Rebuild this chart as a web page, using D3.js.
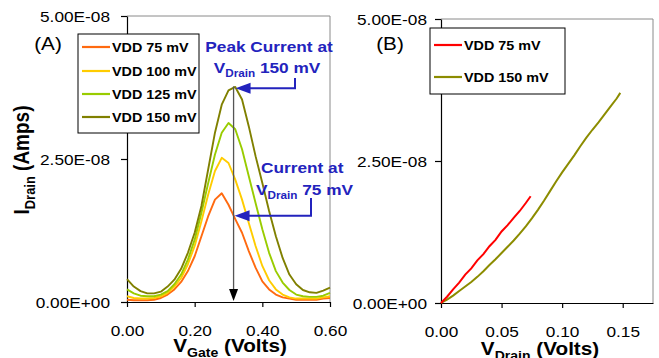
<!DOCTYPE html>
<html>
<head>
<meta charset="utf-8">
<script src="https://cdn.jsdelivr.net/npm/d3@7"></script>
<style>
  body { margin: 0; background: #fff; }
  svg { display: block; }
  text { font-family: "Liberation Sans", Arial, sans-serif; }
</style>
</head>
<body>
<div id="chart-area"></div>
<script>
// panel (A): drain current vs gate voltage, values in units of 1e-8 A
const vGate = [0.00,0.02,0.04,0.06,0.08,0.10,0.12,0.14,0.16,0.18,0.20,0.22,0.24,0.26,0.28,0.30,
               0.32,0.34,0.36,0.38,0.40,0.42,0.44,0.46,0.48,0.50,0.52,0.54,0.56,0.58,0.60];
const idVdd75  = [0.04,0.03,0.03,0.03,0.04,0.07,0.13,0.22,0.35,0.54,0.80,1.15,1.50,1.79,1.90,1.70,
                  1.45,1.21,0.89,0.60,0.36,0.22,0.13,0.08,0.06,0.04,0.04,0.04,0.04,0.06,0.07];
const idVdd100 = [0.10,0.07,0.06,0.06,0.07,0.10,0.16,0.27,0.42,0.66,0.98,1.41,1.88,2.29,2.52,2.43,
                  2.14,1.79,1.38,0.98,0.63,0.38,0.22,0.13,0.08,0.06,0.06,0.06,0.06,0.08,0.10];
const idVdd125 = [0.22,0.15,0.11,0.10,0.10,0.13,0.19,0.31,0.48,0.74,1.09,1.56,2.08,2.58,2.96,3.13,
                  3.02,2.67,2.20,1.73,1.27,0.86,0.54,0.34,0.21,0.13,0.10,0.09,0.09,0.11,0.16];
const idVdd150 = [0.40,0.27,0.19,0.15,0.15,0.18,0.27,0.39,0.58,0.86,1.21,1.68,2.32,2.96,3.45,3.70,
                  3.76,3.54,3.07,2.55,2.08,1.59,1.15,0.77,0.48,0.31,0.21,0.17,0.16,0.20,0.25];

// panel (B): drain current vs drain voltage
const vDrain75  = [0,0.005,0.010,0.015,0.020,0.025,0.030,0.035,0.040,0.045,0.050,0.055,0.060,0.065,0.070,0.074];
const idDrain75 = [0,0.11,0.24,0.36,0.50,0.61,0.75,0.86,1.00,1.11,1.26,1.37,1.50,1.62,1.76,1.88];
const vDrain150  = [0,0.005,0.01,0.015,0.02,0.025,0.03,0.035,0.04,0.045,0.05,0.055,0.06,0.065,0.07,0.075,
                    0.08,0.085,0.09,0.095,0.10,0.105,0.11,0.115,0.12,0.125,0.13,0.135,0.14,0.145,0.148];
const idDrain150 = [0,0.06,0.13,0.21,0.29,0.37,0.46,0.56,0.67,0.77,0.88,0.99,1.10,1.22,1.35,1.49,
                    1.64,1.80,1.97,2.14,2.30,2.45,2.60,2.76,2.91,3.05,3.18,3.32,3.46,3.60,3.70];

const seriesA = ['VDD 75 mV','VDD 100 mV','VDD 125 mV','VDD 150 mV'];
const colorsA = ['#ff6a10','#ffcc00','#99cc00','#808000'];
const seriesB = ['VDD 75 mV','VDD 150 mV'];
const colorsB = ['#ff0000','#8c8c00'];

const yTicks = [0, 2.5e-8, 5e-8];
const xTicksA = [0, 0.2, 0.4, 0.6];
const xTicksB = [0, 0.05, 0.10, 0.15];

const peakVg = 0.315, peakId = 3.77, crossId = 1.51; // marker line and arrow targets
const unit = 1e-8;

const width = 659, height = 358;
const SX = 1.15; // the source picture is stretched sideways

const svg = d3.select('#chart-area').append('svg')
    .attr('width', width).attr('height', height);

const fmtE = v => {
    if (v === 0) return '0.00E+00';
    const e = Math.floor(Math.log10(v) + 1e-9);
    const m = v / Math.pow(10, e);
    return m.toFixed(2) + 'E' + (e < 0 ? '-' : '+') + String(Math.abs(e)).padStart(2, '0');
};

function addText(g, x, y, parts, size, o = {}) {
    const t = g.append('text')
        .attr('transform', `translate(${x},${y}) scale(${SX},1)` + (o.rotate ? ' rotate(-90)' : ''))
        .attr('font-size', size)
        .attr('font-weight', o.bold ? 'bold' : 'normal')
        .attr('fill', o.fill || '#000')
        .attr('text-anchor', o.anchor || 'start');
    let down = false;
    parts.forEach(p => {
        const isSub = typeof p !== 'string';
        const s = t.append('tspan').text(isSub ? p.sub : p);
        if (isSub) { s.attr('font-size', size * 0.68).attr('dy', size * 0.28); down = true; }
        else if (down) { s.attr('dy', -size * 0.28); down = false; }
    });
    return t;
}

function drawAxes(g, x, y, xTicks, xFmt, labelGap) {
    const [x0, x1] = x.range(), [y0, y1] = y.range();
    // grey frame on top and right
    g.append('path')
        .attr('d', `M${x0},${y1}H${x1}V${y0}`)
        .attr('fill', 'none').attr('stroke', '#8a8a8a').attr('stroke-width', 1);

    const ya = g.append('g').attr('transform', `translate(${x0},0)`)
        .call(d3.axisLeft(y).tickValues(yTicks).tickSize(6).tickSizeOuter(0).tickFormat(fmtE));
    ya.selectAll('text')
        .attr('x', -labelGap / SX).attr('dy', '0.36em')
        .attr('transform', `scale(${SX},1)`)
        .attr('font-size', 15).attr('fill', '#000');

    const xa = g.append('g').attr('transform', `translate(0,${y0})`)
        .call(d3.axisBottom(x).tickValues(xTicks).tickSize(5).tickSizeOuter(0).tickFormat(xFmt));
    xa.selectAll('text')
        .attr('y', 0).attr('dy', 34).attr('x', 0)
        .attr('transform', `scale(${SX},1)`)
        .attr('font-size', 15).attr('fill', '#000');

    [ya, xa].forEach(a => {
        a.attr('font-family', null).attr('font-size', null);
        a.select('.domain').attr('stroke', '#000').attr('stroke-width', 1.2);
        a.selectAll('.tick line').attr('stroke', '#000').attr('stroke-width', 1.2);
    });
}

function drawLegend(g, x, y, w, h, names, colors, rowY) {
    g.append('rect').attr('x', x).attr('y', y).attr('width', w).attr('height', h)
        .attr('fill', '#fff').attr('stroke', '#000').attr('stroke-width', 1);
    names.forEach((n, i) => {
        const cy = y + rowY[i];
        g.append('line').attr('x1', x + 4).attr('x2', x + 32).attr('y1', cy).attr('y2', cy)
            .attr('stroke', colors[i]).attr('stroke-width', 2.2);
        addText(g, x + 34, cy + 4.5, [n], 12.5, {bold: true});
    });
}

// ---------- panel A ----------
const gA = svg.append('g');
const xA = d3.scaleLinear().domain([0, 0.6]).range([127, 330]);
const yA = d3.scaleLinear().domain([0, 5e-8]).range([302, 16]);
drawAxes(gA, xA, yA, xTicksA, d3.format('.2f'), 17);

const lineA = d3.line().x((d, i) => xA(vGate[i])).y(d => yA(d * unit));
[idVdd75, idVdd100, idVdd125, idVdd150].forEach((s, i) => {
    gA.append('path').datum(s).attr('d', lineA)
        .attr('fill', 'none').attr('stroke', colorsA[i]).attr('stroke-width', 1.9)
        .attr('stroke-linejoin', 'round');
});

// vertical marker at the peak gate voltage
const mx = xA(peakVg);
gA.append('line').attr('x1', mx).attr('x2', mx)
    .attr('y1', yA(peakId * unit)).attr('y2', yA(0) - 10)
    .attr('stroke', '#555').attr('stroke-width', 1.3);
gA.append('path')
    .attr('d', `M${mx - 4.5},${yA(0) - 13}L${mx + 4.5},${yA(0) - 13}L${mx},${yA(0) - 1}Z`)
    .attr('fill', '#000');

// blue call-out arrows
const blue = '#2323bd';
function callout(tipX, tipY, elbowX, topY) {
    gA.append('path')
        .attr('d', `M${elbowX},${topY}V${tipY}H${tipX + 13}`)
        .attr('fill', 'none').attr('stroke', blue).attr('stroke-width', 2);
    gA.append('path')
        .attr('d', `M${tipX},${tipY}L${tipX + 15},${tipY - 5.5}L${tipX + 15},${tipY + 5.5}Z`)
        .attr('fill', blue);
}
callout(mx + 2, yA(peakId * unit) + 2, 295, 78);
callout(mx + 1, yA(crossId * unit), 311, 198);

addText(gA, 269, 52, ['Peak Current at'], 15, {bold: true, fill: blue, anchor: 'middle'});
addText(gA, 267, 73, ['V', {sub: 'Drain'}, ' 150 mV'], 15, {bold: true, fill: blue, anchor: 'middle'});
addText(gA, 261, 173, ['Current at'], 15, {bold: true, fill: blue});
addText(gA, 256, 195, ['V', {sub: 'Drain'}, ' 75 mV'], 15, {bold: true, fill: blue});

drawLegend(gA, 78, 34, 121, 99, seriesA, colorsA, [13, 37, 60, 83]);

addText(gA, 48, 50, ['(A)'], 18, {anchor: 'middle'});
addText(gA, 230, 352, ['V', {sub: 'Gate'}, ' (Volts)'], 18, {bold: true, anchor: 'middle'});
addText(gA, 29, 160, ['I', {sub: 'Drain'}, ' (Amps)'], 19, {bold: true, anchor: 'middle', rotate: true});

// ---------- panel B ----------
const gB = svg.append('g');
const xB = d3.scaleLinear().domain([0, 0.175]).range([441, 653]);
const yB = d3.scaleLinear().domain([0, 5e-8]).range([303, 19]);
drawAxes(gB, xB, yB, xTicksB, d3.format('.2f'), 14);

const lineB = (xs) => d3.line().x((d, i) => xB(xs[i])).y(d => yB(d * unit));
gB.append('path').datum(idDrain150).attr('d', lineB(vDrain150))
    .attr('fill', 'none').attr('stroke', colorsB[1]).attr('stroke-width', 2);
gB.append('path').datum(idDrain75).attr('d', lineB(vDrain75))
    .attr('fill', 'none').attr('stroke', colorsB[0]).attr('stroke-width', 2);

drawLegend(gB, 430, 28, 135, 66, seriesB, colorsB, [17, 49]);

addText(gB, 390, 50, ['(B)'], 18, {anchor: 'middle'});
addText(gB, 540, 355, ['V', {sub: 'Drain'}, ' (Volts)'], 18, {bold: true, anchor: 'middle'});
</script>
</body>
</html>
